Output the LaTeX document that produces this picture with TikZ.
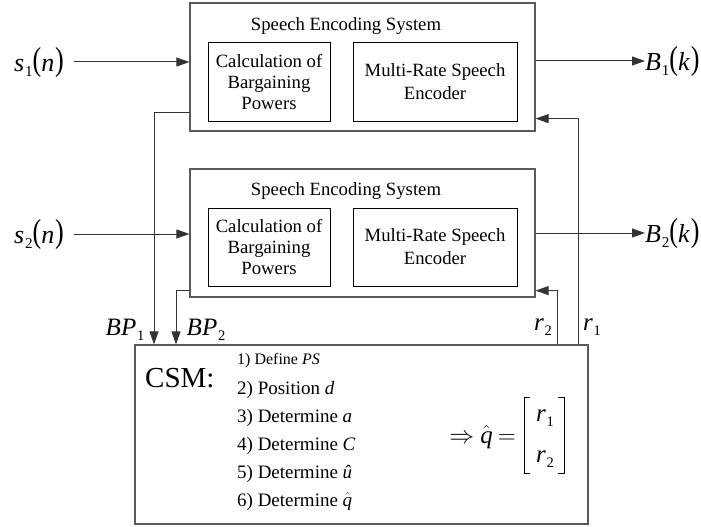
\documentclass[tikz,border=0pt]{standalone}
\usepackage{fontspec}
\setmainfont{Liberation Serif}
\usetikzlibrary{arrows.meta}

% sub-index set small and lowered
\newcommand\lbsub[1]{\kern0.03em\raisebox{-0.2em}{\scalebox{0.58}{\upshape #1}}}
% tall parentheses
\newcommand\tp[1]{\raisebox{0.05em}{\scalebox{1}[1.28]{#1}}}
% signal name with index and argument, e.g. s_1(n)
\newcommand\sig[3]{\textit{#1}\lbsub{#2}\tp{(}\textit{#3}\kern0.03em\tp{)}}
% italic q with a hat
\newcommand\hq{$\hat{\mbox{\itshape q}}$}

\newcommand\boxfont{\fontsize{18.7}{21}\selectfont}
\newcommand\encfont{\fontsize{18.7}{23}\selectfont}
\newcommand\sigfont{\fontsize{26}{28}\selectfont}
\newcommand\lblfont{\fontsize{25}{27}\selectfont}
\newcommand\stepfont{\fontsize{19}{21}\selectfont}

\begin{document}
\begin{tikzpicture}[x=1pt,y=-1pt,
  outerbox/.style={draw=black!65,line width=1.2pt,minimum width=345pt,minimum height=128pt,inner sep=0pt},
  innerbox/.style={draw=black,line width=1pt,align=center,inner sep=0pt,font=\boxfont},
  calcbox/.style={innerbox,minimum width=122pt,minimum height=78pt},
  encbox/.style={innerbox,minimum width=164pt,minimum height=78pt,font=\encfont},
  title/.style={font=\boxfont,inner sep=0pt},
  sigl/.style={font=\sigfont,inner sep=0pt},
  lbl/.style={font=\lblfont,inner sep=0pt},
  wire/.style={draw=black!80,line width=1pt},
  arr/.style={wire,-{Triangle[length=13pt,width=9pt]}},
  steptext/.style={anchor=west,inner sep=0pt,font=\stepfont,text height=0.7em,text depth=0.2em}
]
\useasboundingbox (0,0) rectangle (701,527);

% upper speech encoding system
\node[outerbox] (sys1) at (362.5,67) {};
\node[title] (t1) at (346,26) {Speech Encoding System};
\node[calcbox] (calc1) at (269,82) {Calculation of\\Bargaining\\Powers};
\node[encbox] (enc1) at (435,82) {Multi-Rate Speech\\Encoder};

% lower speech encoding system
\node[outerbox] (sys2) at (362.5,233) {};
\node[title] (t2) at (346,191) {Speech Encoding System};
\node[calcbox] (calc2) at (269,247) {Calculation of\\Bargaining\\Powers};
\node[encbox] (enc2) at (435,247) {Multi-Rate Speech\\Encoder};

% central controller
\node[outerbox,minimum width=453pt,minimum height=179pt] (csm) at (361.5,434.5) {};
\node[anchor=west,inner sep=0pt,font=\fontsize{29}{31}\selectfont] (csmlabel) at (145,378) {CSM:};
\node[steptext,font=\fontsize{16}{18}\selectfont] (st1) at (237,362) {1) Define \textit{PS}};
\node[steptext] (st2) at (237,392) {2) Position \textit{d}};
\node[steptext] (st3) at (237,420) {3) Determine \textit{a}};
\node[steptext] (st4) at (237,448) {4) Determine \textit{C}};
\node[steptext] (st5) at (237,476) {5) Determine \textit{û}};
\node[steptext] (st6) at (237,504) {6) Determine \hq};

% result vector
\node[anchor=east,inner sep=0pt,font=\lblfont] (eq) at (516,437) {$\Rightarrow$\kern0.25em\hq\kern0.2em$=$};
\node[lbl] (m1) at (545,418) {\textit{r}\lbsub{1}};
\node[lbl] (m2) at (545,459) {\textit{r}\lbsub{2}};
\draw[line width=1pt] (530,397) -- (524,397) -- (524,473) -- (530,473);
\draw[line width=1pt] (558,397) -- (564,397) -- (564,473) -- (558,473);

% inputs and outputs
\node[sigl] (s1) at (39,62) {\sig{s}{1}{n}};
\node[sigl] (s2) at (39,234) {\sig{s}{2}{n}};
\node[sigl,anchor=west] (b1) at (645,61) {\sig{B}{1}{k}};
\node[sigl,anchor=west] (b2) at (645,233) {\sig{B}{2}{k}};
\draw[arr] ([xshift=10pt]s1.east) -- (s1.east -| sys1.west);
\draw[arr] ([xshift=10pt]s2.east) -- (s2.east -| sys2.west);
\draw[arr] (b1.west -| sys1.east) -- (b1.west);
\draw[arr] (b2.west -| sys2.east) -- (b2.west);

% bargaining powers down, rates back up
\coordinate (bp1x) at (154,0);
\coordinate (bp2x) at (176,0);
\coordinate (r2x) at (557,0);
\coordinate (r1x) at (578,0);
\draw[arr] ([yshift=19pt]sys1.south west) -| (bp1x |- csm.north);
\draw[arr] ([yshift=7pt]sys2.south west) -| (bp2x |- csm.north);
\draw[arr] (r1x |- csm.north) |- ([yshift=13pt]sys1.south east);
\draw[arr] (r2x |- csm.north) |- ([yshift=7pt]sys2.south east);

\node[lbl] (bp1l) at (125,330) {\textit{BP}\lbsub{1}};
\node[lbl] (bp2l) at (206,330) {\textit{BP}\lbsub{2}};
\node[lbl] (r2l) at (543,327) {\textit{r}\lbsub{2}};
\node[lbl] (r1l) at (592,327) {\textit{r}\lbsub{1}};
\end{tikzpicture}
\end{document}
